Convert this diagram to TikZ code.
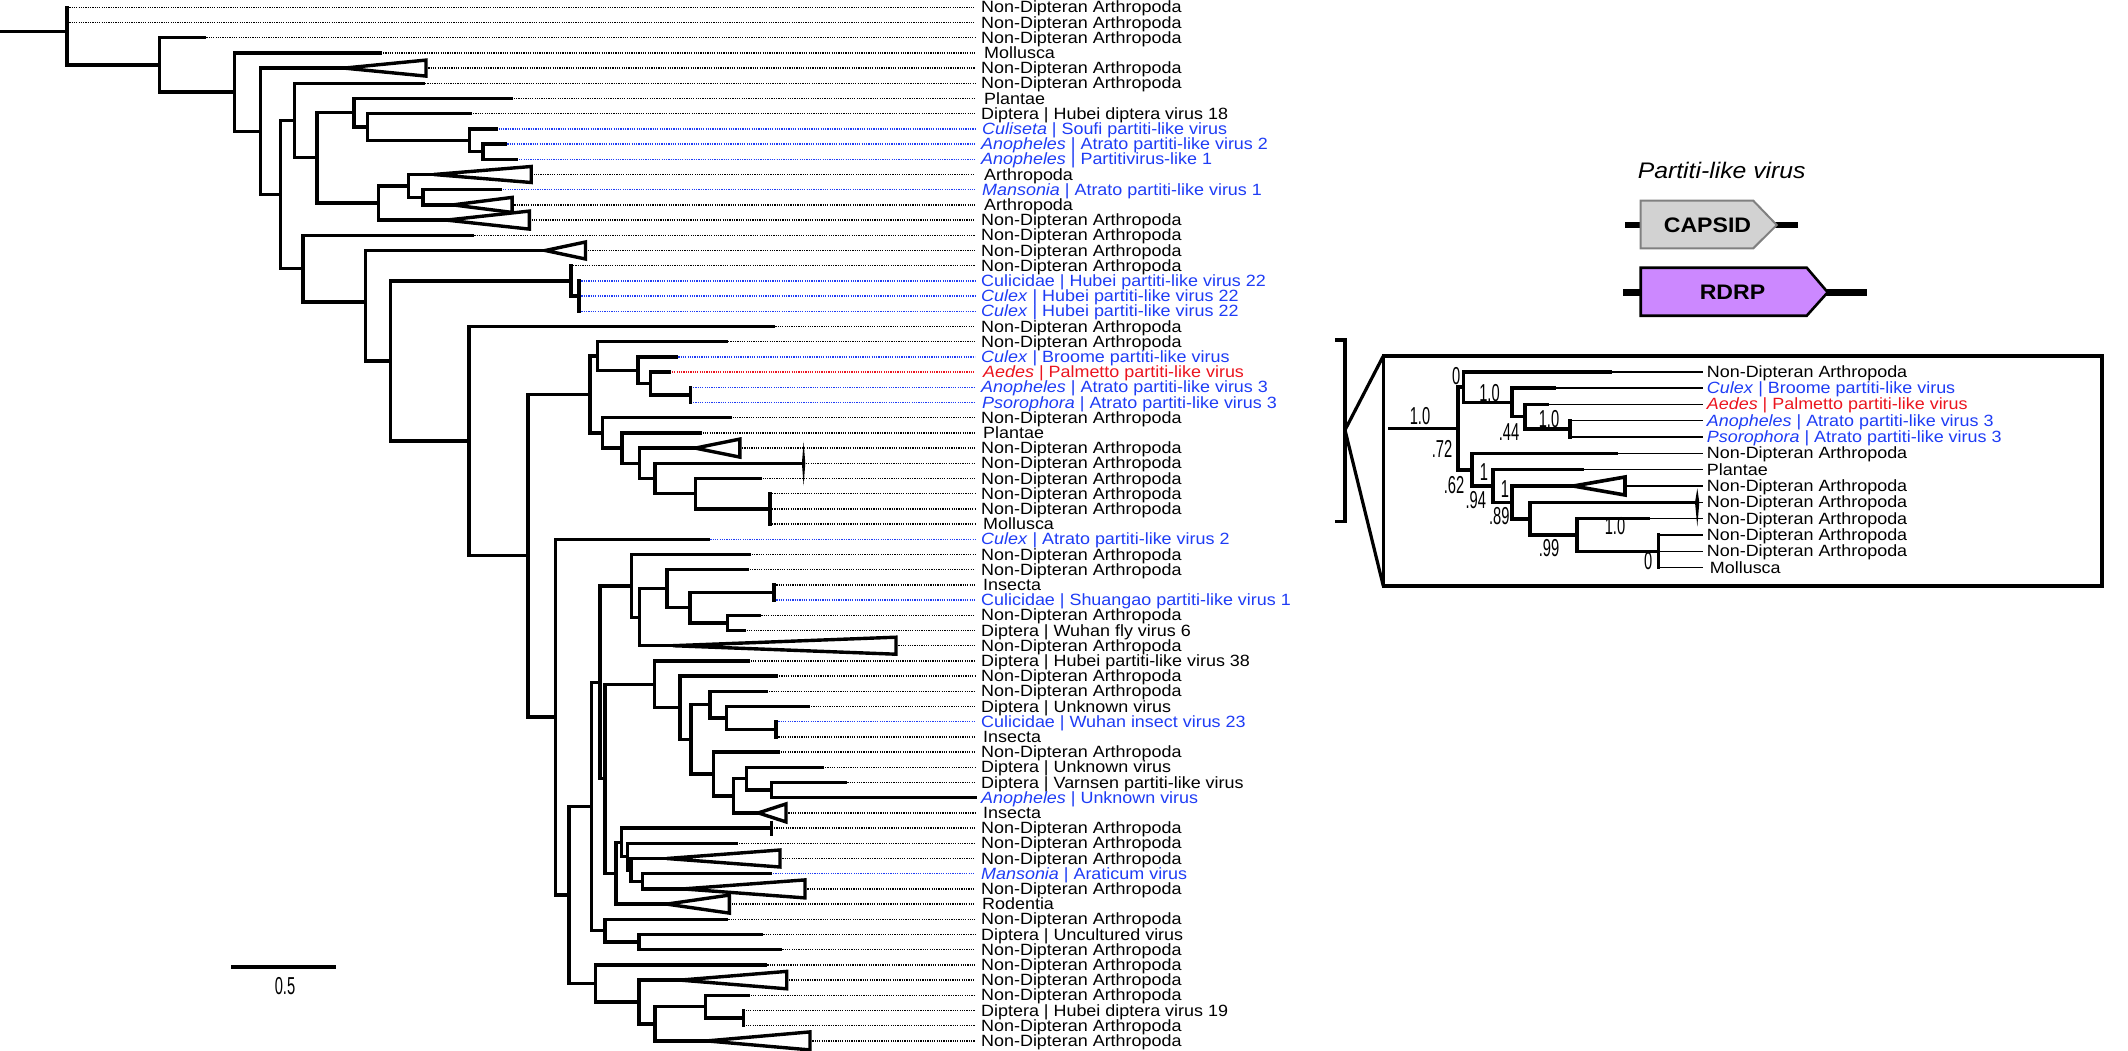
\documentclass[tikz,border=0pt]{standalone}
\usepackage{fontspec}
\setmainfont{Liberation Sans}
\newfontfamily\labfont[FakeStretch=1.1]{Liberation Sans}
\newfontfamily\numfont[FakeStretch=0.6]{Liberation Sans}
\usetikzlibrary{calc}
\definecolor{lblue}{RGB}{30,60,245}
\definecolor{lred}{RGB}{235,20,30}
\definecolor{rdrpc}{RGB}{204,136,255}
\definecolor{capc}{RGB}{210,210,210}
\newcommand\ndatext{Non-Dipteran Arthropoda}
\newcommand\leafrow[4]{%
  \coordinate (l#1) at (#2,{ry(#1)});
  \coordinate (e#1) at (975,{ry(#1)});
  \draw[dotline,#3] (l#1) -- (e#1);
  \node[lab,text=#3] (t#1) at (981,{ry(#1)+5.6}) {#4};}
\newcommand\collapsed[4]{%
  \coordinate (a#1) at (#2,{ry(#1)});
  \draw[tri] (a#1) -- (#3,{ry(#1)-#4}) -- (#3,{ry(#1)+#4}) -- cycle;}
\newcommand\kids[2]{\foreach \kidname in {#2} {\draw[br] (#1) |- (\kidname);}}
\newcommand\insetleaf[4]{%
  \coordinate (ik#1t) at (#2,{iy(#1)});
  \coordinate (ik#1e) at (1703.3,{iy(#1)});
  \draw[thinbr] (ik#1t) -- (ik#1e);
  \node[lab,text=#3] (it#1) at (1706.7,{iy(#1)+5.6}) {#4};}
\newcommand\ikids[2]{\foreach \kidname in {#2} {\draw[ibr] (#1) |- (\kidname);}}
\begin{document}
\begin{tikzpicture}[x=1pt,y=-1pt,
  declare function={ry(\r)=7.3+15.2*(\r-1); iy(\k)=371.7+16.33*\k;},
  br/.style={line width=3.4pt, line cap=rect, line join=miter},
  ibr/.style={line width=3.6pt, line cap=rect, line join=miter},
  thinbr/.style={line width=1.6pt},
  dotline/.style={line width=1.5pt, dash pattern=on 1.2pt off 1.1pt, black},
  tri/.style={line width=3.4pt, line join=miter, fill=white},
  lab/.style={anchor=base west, inner sep=0pt, font=\labfont\fontsize{16.3}{16}\selectfont},
  num/.style={inner sep=0pt, font=\numfont\fontsize{24.5}{24}\selectfont}]
\useasboundingbox (0,0) rectangle (2128,1051);

% ---------------- leaves ----------------
\leafrow{1}{67}{black}{\ndatext}
\leafrow{2}{67}{black}{\ndatext}
\leafrow{3}{204}{black}{\ndatext}
\leafrow{4}{380.7}{black}{\kern3pt Mollusca}
\leafrow{5}{426}{black}{\ndatext}
\leafrow{6}{422.8}{black}{\ndatext}
\leafrow{7}{511.5}{black}{\kern3pt Plantae}
\leafrow{8}{470.7}{black}{Diptera | Hubei diptera virus 18}
\leafrow{9}{496.2}{lblue}{\kern1pt\textit{Culiseta} | Soufi partiti-like virus}
\leafrow{10}{505}{lblue}{\textit{Anopheles} | Atrato partiti-like virus 2}
\leafrow{11}{516.6}{lblue}{\textit{Anopheles} | Partitivirus-like 1}
\leafrow{12}{531.2}{black}{\kern3pt Arthropoda}
\leafrow{13}{500.6}{lblue}{\kern1pt\textit{Mansonia} | Atrato partiti-like virus 1}
\leafrow{14}{512.1}{black}{\kern3pt Arthropoda}
\leafrow{15}{529.3}{black}{\ndatext}
\leafrow{16}{472}{black}{\ndatext}
\leafrow{17}{585.5}{black}{\ndatext}
\leafrow{18}{570.8}{black}{\ndatext}
\leafrow{19}{579.1}{lblue}{Culicidae | Hubei partiti-like virus 22}
\leafrow{20}{579.1}{lblue}{\textit{Culex} | Hubei partiti-like virus 22}
\leafrow{21}{579.1}{lblue}{\textit{Culex} | Hubei partiti-like virus 22}
\leafrow{22}{773}{black}{\ndatext}
\leafrow{23}{725.8}{black}{\ndatext}
\leafrow{24}{676}{lblue}{\textit{Culex} | Broome partiti-like virus}
\leafrow{25}{669.6}{lred}{\kern2pt\textit{Aedes} | Palmetto partiti-like virus}
\leafrow{26}{690.7}{lblue}{\textit{Anopheles} | Atrato partiti-like virus 3}
\leafrow{27}{690.7}{lblue}{\kern1pt\textit{Psorophora} | Atrato partiti-like virus 3}
\leafrow{28}{730.2}{black}{\ndatext}
\leafrow{29}{700.3}{black}{\kern2pt Plantae}
\leafrow{30}{739.8}{black}{\ndatext}
\leafrow{31}{803.6}{black}{\ndatext}
\leafrow{32}{760.2}{black}{\ndatext}
\leafrow{33}{769.8}{black}{\ndatext}
\leafrow{34}{769.8}{black}{\ndatext}
\leafrow{35}{769.8}{black}{\kern2pt Mollusca}
\leafrow{36}{708}{lblue}{\textit{Culex} | Atrato partiti-like virus 2}
\leafrow{37}{749.4}{black}{\ndatext}
\leafrow{38}{747.4}{black}{\ndatext}
\leafrow{39}{774}{black}{\kern2pt Insecta}
\leafrow{40}{774}{lblue}{Culicidae | Shuangao partiti-like virus 1}
\leafrow{41}{759}{black}{\ndatext}
\leafrow{42}{744.3}{black}{Diptera | Wuhan fly virus 6}
\leafrow{43}{896}{black}{\ndatext}
\leafrow{44}{748.3}{black}{Diptera | Hubei partiti-like virus 38}
\leafrow{45}{776.7}{black}{\ndatext}
\leafrow{46}{766.7}{black}{\ndatext}
\leafrow{47}{808.7}{black}{Diptera | Unknown virus}
\leafrow{48}{776}{lblue}{Culicidae | Wuhan insect virus 23}
\leafrow{49}{776}{black}{\kern2pt Insecta}
\leafrow{50}{778.3}{black}{\ndatext}
\leafrow{51}{822.7}{black}{Diptera | Unknown virus}
\leafrow{52}{845}{black}{Diptera | Varnsen partiti-like virus}
\leafrow{53}{975}{lblue}{\textit{Anopheles} | Unknown virus}
\leafrow{54}{786}{black}{\kern2pt Insecta}
\leafrow{55}{771.7}{black}{\ndatext}
\leafrow{56}{736.7}{black}{\ndatext}
\leafrow{57}{780}{black}{\ndatext}
\leafrow{58}{770.7}{lblue}{\textit{Mansonia} | Araticum virus}
\leafrow{59}{805}{black}{\ndatext}
\leafrow{60}{729.3}{black}{\kern1pt Rodentia}
\leafrow{61}{726}{black}{\ndatext}
\leafrow{62}{761}{black}{Diptera | Uncultured virus}
\leafrow{63}{780}{black}{\ndatext}
\leafrow{64}{765}{black}{\ndatext}
\leafrow{65}{786.7}{black}{\ndatext}
\leafrow{66}{748.3}{black}{\ndatext}
\leafrow{67}{743.3}{black}{Diptera | Hubei diptera virus 19}
\leafrow{68}{743.3}{black}{\ndatext}
\leafrow{69}{810}{black}{\ndatext}

% ---------------- internal nodes ----------------
\coordinate (r0) at (0,{ry(2.6)});
\coordinate (nRoot) at (67,{ry(2.6)});
\coordinate (nA) at (159.4,{ry(4.79)});
\coordinate (nB) at (234.7,{ry(6.58)});
\coordinate (nC) at (260.2,{ry(9.16)});
\coordinate (nD) at (280.6,{ry(13.32)});
\coordinate (nE) at (294.6,{ry(8.45)});
\coordinate (nG) at (317,{ry(10.9)});
\coordinate (nH) at (354,{ry(7.94)});
\coordinate (nJ) at (367.3,{ry(8.875)});
\coordinate (nK) at (469.4,{ry(9.75)});
\coordinate (nL) at (482.8,{ry(10.5)});
\coordinate (nI) at (378.2,{ry(13.875)});
\coordinate (nM) at (408.2,{ry(12.75)});
\coordinate (nN) at (422.8,{ry(13.5)});
\coordinate (nF) at (303,{ry(18.19)});
\coordinate (nO) at (365.4,{ry(20.39)});
\coordinate (nP) at (390.3,{ry(24.27)});
\coordinate (nQ) at (570.8,{ry(19)});
\coordinate (nR) at (579.1,{ry(20)});
\coordinate (nS) at (468.8,{ry(29.54)});
\coordinate (nT) at (528,{ry(37.08)});
\coordinate (nU) at (590,{ry(26.47)});
\coordinate (nW) at (597.6,{ry(23.94)});
\coordinate (nY) at (637.8,{ry(24.875)});
\coordinate (nZ) at (650.5,{ry(25.75)});
\coordinate (nAA) at (690.7,{ry(26.5)});
\coordinate (nX) at (602.7,{ry(29)});
\coordinate (nAB) at (621.8,{ry(30)});
\coordinate (nAC) at (639.7,{ry(31)});
\coordinate (nAD) at (655,{ry(32)});
\coordinate (nAE) at (695.2,{ry(33)});
\coordinate (nAF) at (769.8,{ry(34)});
\coordinate (nV) at (555.5,{ry(47.7)});
\coordinate (nVV) at (569,{ry(59.4)});
\coordinate (nBA) at (591.7,{ry(53.58)});
\coordinate (nG0) at (600,{ry(45.41)});
\coordinate (nG1) at (631.2,{ry(39.06)});
\coordinate (nG2) at (639.5,{ry(41.125)});
\coordinate (nG3) at (667,{ry(39.25)});
\coordinate (nG4) at (690,{ry(40.5)});
\coordinate (nG5) at (774,{ry(39.5)});
\coordinate (nG6) at (727.5,{ry(41.5)});
\coordinate (nG7) at (605,{ry(51.75)});
\coordinate (nG8) at (654.3,{ry(45.54)});
\coordinate (nG10) at (680,{ry(47.08)});
\coordinate (nG11) at (691,{ry(49.16)});
\coordinate (nG12) at (710,{ry(46.875)});
\coordinate (nG14) at (726.7,{ry(47.75)});
\coordinate (nG15) at (776,{ry(48.5)});
\coordinate (nG13) at (713.3,{ry(51.44)});
\coordinate (nG16) at (733.3,{ry(52.875)});
\coordinate (nG17) at (746.7,{ry(51.75)});
\coordinate (nG18) at (771.7,{ry(52.5)});
\coordinate (nG9) at (616,{ry(57.97)});
\coordinate (nG19) at (621.7,{ry(55.94)});
\coordinate (nG20) at (627.3,{ry(56.875)});
\coordinate (nG22) at (631,{ry(57.75)});
\coordinate (nG21) at (642.7,{ry(58.5)});
\coordinate (nBG) at (605,{ry(61.75)});
\coordinate (nBH) at (639,{ry(62.5)});
\coordinate (nBB) at (595.7,{ry(65.22)});
\coordinate (nBC) at (639,{ry(66.44)});
\coordinate (nBD) at (655,{ry(67.875)});
\coordinate (nBE) at (705.7,{ry(66.75)});
\coordinate (nBF) at (743.3,{ry(67.5)});

% collapsed clades
\collapsed{5}{344}{426}{8}
\collapsed{12}{433.7}{531.2}{8}
\collapsed{14}{452.8}{512.1}{7.5}
\collapsed{15}{446.4}{529.3}{9}
\collapsed{17}{545.3}{585.5}{8.5}
\collapsed{30}{695.2}{739.8}{9}
\collapsed{43}{673}{896}{8.5}
\collapsed{54}{758.3}{786}{9}
\collapsed{57}{666.7}{780}{8.5}
\collapsed{59}{683}{805}{9}
\collapsed{60}{666.7}{729.3}{9}
\collapsed{65}{680}{786.7}{8.7}
\collapsed{69}{706.7}{810}{9}

% ---------------- branches ----------------
\draw[br] (r0) -- (nRoot);
\kids{nRoot}{l1,l2,nA}
\kids{nA}{l3,nB}
\kids{nB}{l4,nC}
\kids{nC}{a5,nD}
\kids{nD}{nE,nF}
\kids{nE}{l6,nG}
\kids{nG}{nH,nI}
\kids{nH}{l7,nJ}
\kids{nJ}{l8,nK}
\kids{nK}{l9,nL}
\kids{nL}{l10,l11}
\kids{nI}{nM,a15}
\kids{nM}{a12,nN}
\kids{nN}{l13,a14}
\kids{nF}{l16,nO}
\kids{nO}{a17,nP}
\kids{nP}{nQ,nS}
\kids{nQ}{l18,nR}
\kids{nR}{l19,l20,l21}
\kids{nS}{l22,nT}
\kids{nT}{nU,nV}
\kids{nU}{nW,nX}
\kids{nW}{l23,nY}
\kids{nY}{l24,nZ}
\kids{nZ}{l25,nAA}
\kids{nAA}{l26,l27}
\kids{nX}{l28,nAB}
\kids{nAB}{l29,nAC}
\kids{nAC}{a30,nAD}
\kids{nAD}{l31,nAE}
\kids{nAE}{l32,nAF}
\kids{nAF}{l33,l34,l35}
\kids{nV}{l36,nVV}
\kids{nVV}{nBA,nBB}
\kids{nBA}{nG0,nBG}
\kids{nG0}{nG1,nG7}
\kids{nG1}{l37,nG2}
\kids{nG2}{nG3,a43}
\kids{nG3}{l38,nG4}
\kids{nG4}{nG5,nG6}
\kids{nG5}{l39,l40}
\kids{nG6}{l41,l42}
\kids{nG7}{nG8,nG9}
\kids{nG8}{l44,nG10}
\kids{nG10}{l45,nG11}
\kids{nG11}{nG12,nG13}
\kids{nG12}{l46,nG14}
\kids{nG14}{l47,nG15}
\kids{nG15}{l48,l49}
\kids{nG13}{l50,nG16}
\kids{nG16}{nG17,a54}
\kids{nG17}{l51,nG18}
\kids{nG18}{l52,l53}
\kids{nG9}{nG19,a60}
\kids{nG19}{l55,nG20}
\kids{nG20}{l56,nG22}
\kids{nG22}{a57,nG21}
\kids{nG21}{l58,a59}
\kids{nBG}{l61,nBH}
\kids{nBH}{l62,l63}
\kids{nBB}{l64,nBC}
\kids{nBC}{a65,nBD}
\kids{nBD}{nBE,a69}
\kids{nBE}{l66,nBF}
\kids{nBF}{l67,l68}

% spike at row 31 and tick at row 55
\fill (801.9,{ry(31)}) -- (803.6,441.7) -- (805.3,{ry(31)}) -- (803.6,485.7) -- cycle;
\draw[line width=3.4pt] (771.7,{ry(55)-7.5}) -- (771.7,{ry(55)+7.5});

% scale bar
\coordinate (sb1) at (231,967.3);
\coordinate (sb2) at (336,967.3);
\draw[line width=3.8pt] (sb1) -- (sb2);
\node[num] (sbl) at (285,986) {0.5};

% ---------------- legend ----------------
\node[inner sep=0pt,font=\labfont\itshape\fontsize{22.5}{23}\selectfont] (ltitle) at (1721.7,170) {Partiti-like virus};
\coordinate (cap1) at (1625,225);
\coordinate (cap2) at (1798.3,225);
\draw[line width=6.5pt] (cap1) -- (cap2);
\draw[line width=2pt, draw=black!50, fill=capc] (1640.7,200.7) -- (1753.3,200.7) -- (1776.7,225) -- (1753.3,248.3) -- (1640.7,248.3) -- cycle;
\node[inner sep=0pt,font=\labfont\bfseries\fontsize{21}{21}\selectfont] (capt) at (1707.5,225) {CAPSID};
\coordinate (rd1) at (1623.3,292.3);
\coordinate (rd2) at (1867.3,292.3);
\draw[line width=6.5pt] (rd1) -- (rd2);
\draw[line width=2.6pt, line join=miter, fill=rdrpc] (1640.7,267.7) -- (1806.7,267.7) -- (1827.7,292.3) -- (1806.7,315.7) -- (1640.7,315.7) -- cycle;
\node[inner sep=0pt,font=\labfont\bfseries\fontsize{21}{21}\selectfont] (rdt) at (1732.5,292.3) {RDRP};

% ---------------- bracket and inset box ----------------
\coordinate (bk1) at (1335,340);
\coordinate (bk2) at (1345,340);
\coordinate (bk3) at (1345,521.7);
\coordinate (bk4) at (1335,521.7);
\coordinate (bkm) at (1345,430);
\coordinate (bxa) at (1383.3,356);
\coordinate (bxb) at (2102,586);
\draw[line width=3.2pt, line join=miter] (bk1) -- (bk2) -- (bk3) -- (bk4);
\draw[line width=3.2pt] (bxa) -- (bkm) -- (bxa |- bxb);
\draw[line width=3.2pt] (bxa) rectangle (bxb);

% inset leaves
\insetleaf{0}{1610}{black}{\ndatext}
\insetleaf{1}{1554}{lblue}{\textit{Culex} | Broome partiti-like virus}
\insetleaf{2}{1546.7}{lred}{\textit{Aedes} | Palmetto partiti-like virus}
\insetleaf{3}{1570}{lblue}{\textit{Anopheles} | Atrato partiti-like virus 3}
\insetleaf{4}{1570}{lblue}{\textit{Psorophora} | Atrato partiti-like virus 3}
\insetleaf{5}{1615.7}{black}{\ndatext}
\insetleaf{6}{1581.7}{black}{Plantae}
\insetleaf{7}{1625}{black}{\ndatext}
\insetleaf{8}{1693.3}{black}{\ndatext}
\insetleaf{9}{1648.3}{black}{\ndatext}
\insetleaf{10}{1658.3}{black}{\ndatext}
\insetleaf{11}{1658.3}{black}{\ndatext}
\insetleaf{12}{1658.3}{black}{\kern3pt Mollusca}

% inset internal nodes
\coordinate (iR0) at (1390,428.3);
\coordinate (iI0) at (1457.7,428.3);
\coordinate (iI1) at (1463.3,387);
\coordinate (iI3) at (1511.7,402.3);
\coordinate (iI4) at (1525,416.6);
\coordinate (iI5) at (1570,428.85);
\coordinate (iI2) at (1471.7,469.7);
\coordinate (iI6) at (1492.7,486);
\coordinate (iI7) at (1511.7,502.3);
\coordinate (iI8) at (1530,518.7);
\coordinate (iI9) at (1576.7,535);
\coordinate (iI10) at (1658.3,551.3);
\coordinate (ia7) at (1573.3,{iy(7)});

\draw[tri,line width=3.6pt] (ia7) -- (1625,{iy(7)-9}) -- (1625,{iy(7)+9}) -- cycle;
\draw[ibr] (iR0) -- (iI0);
\ikids{iI0}{iI1,iI2}
\ikids{iI1}{ik0t,iI3}
\ikids{iI3}{ik1t,iI4}
\ikids{iI4}{ik2t,iI5}
\ikids{iI5}{ik3t,ik4t}
\ikids{iI2}{ik5t,iI6}
\ikids{iI6}{ik6t,iI7}
\ikids{iI7}{ia7,iI8}
\ikids{iI8}{ik8t,iI9}
\ikids{iI9}{ik9t,iI10}
\ikids{iI10}{ik10t,ik11t,ik12t}
\fill (1695,{iy(8)}) -- (1697.3,488.3) -- (1699.3,{iy(8)}) -- (1697.3,526.7) -- cycle;

% support values
\node[num] (s1) at (1420,416) {1.0};
\node[num] (s2) at (1456.3,376.3) {0};
\node[num] (s3) at (1489.5,393) {1.0};
\node[num] (s4) at (1509,432) {.44};
\node[num] (s5) at (1549,419) {1.0};
\node[num] (s6) at (1442,449) {.72};
\node[num] (s7) at (1454,485) {.62};
\node[num] (s8) at (1484,472.5) {1};
\node[num] (s9) at (1475.8,500) {.94};
\node[num] (s10) at (1505,488.7) {1};
\node[num] (s11) at (1499.3,515.8) {.89};
\node[num] (s12) at (1549,548) {.99};
\node[num] (s13) at (1615,526) {1.0};
\node[num] (s14) at (1648.3,561.3) {0};
\end{tikzpicture}
\end{document}
